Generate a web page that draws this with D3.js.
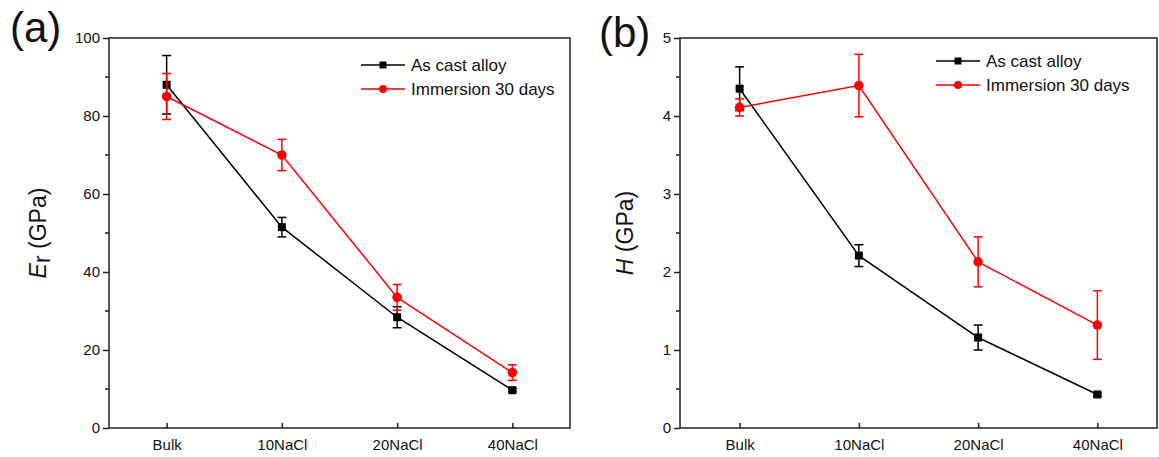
<!DOCTYPE html>
<html>
<head>
<meta charset="utf-8">
<script src="https://cdn.jsdelivr.net/npm/d3@7"></script>
<style>
  body { margin: 0; background: #fff; }
  svg { font-family: "Liberation Sans", Arial, sans-serif; }
</style>
</head>
<body>
<div id="chart"></div>
<script>
// Data
const categories = ["Bulk", "10NaCl", "20NaCl", "40NaCl"];
const seriesNames = ["As cast alloy", "Immersion 30 days"];

// panel (a) reduced modulus
const erCast = [88, 51.5, 28.4, 9.7];
const erCastErr = [7.5, 2.5, 2.7, 0.4];
const erImm = [85, 70, 33.5, 14.2];
const erImmErr = [5.9, 4, 3.3, 2];

// panel (b) hardness
const hCast = [4.35, 2.21, 1.16, 0.43];
const hCastErr = [0.28, 0.14, 0.16, 0.02];
const hImm = [4.11, 4.39, 2.13, 1.32];
const hImmErr = [0.11, 0.4, 0.32, 0.44];

const yTicksA = [0, 20, 40, 60, 80, 100];
const yTicksB = [0, 1, 2, 3, 4, 5];

const width = 1159;
const height = 457;

const svg = d3.select("#chart")
  .append("svg")
  .attr("width", width)
  .attr("height", height);

const colors = ["#000000", "#ff0000"];
const axisColor = "#222";

function drawPanel(opts) {
  const { left, right, top, bottom, yMax, yTicks, minorStep, series, letter, letterPos, legendPos, title } = opts;

  const x = d3.scaleLinear().domain([0.5, categories.length + 0.5]).range([left, right]);
  const y = d3.scaleLinear().domain([0, yMax]).range([bottom, top]);

  const g = svg.append("g");

  // frame
  g.append("rect")
    .attr("x", left).attr("y", top)
    .attr("width", right - left).attr("height", bottom - top)
    .attr("fill", "none")
    .attr("stroke", axisColor)
    .attr("stroke-width", 1.5);

  // y axis: ticks outward, minor ticks between
  const yAxis = d3.axisLeft(y)
    .tickValues(yTicks)
    .tickSize(6)
    .tickPadding(3)
    .tickFormat(d3.format("d"));
  const ya = g.append("g").attr("transform", `translate(${left},0)`).call(yAxis);
  ya.select(".domain").remove();
  ya.selectAll("line").attr("stroke", axisColor).attr("stroke-width", 1.5);
  ya.selectAll("text").attr("font-size", 15).attr("fill", "#111");

  const minor = d3.range(minorStep, yMax, minorStep * 2);
  g.selectAll(".minor")
    .data(minor)
    .enter()
    .append("line")
    .attr("x1", left - 4).attr("x2", left)
    .attr("y1", d => y(d)).attr("y2", d => y(d))
    .attr("stroke", axisColor)
    .attr("stroke-width", 1.5);

  // x axis: ticks inward
  const xAxis = d3.axisBottom(x)
    .tickValues(d3.range(1, categories.length + 1))
    .tickSize(-5)
    .tickPadding(11)
    .tickFormat(i => categories[i - 1]);
  const xa = g.append("g").attr("transform", `translate(0,${bottom})`).call(xAxis);
  xa.select(".domain").remove();
  xa.selectAll("line").attr("stroke", axisColor).attr("stroke-width", 1.5);
  xa.selectAll("text").attr("font-size", 15).attr("fill", "#111");

  // series
  series.forEach((s, k) => {
    const pts = s.values.map((v, i) => ({ i: i + 1, v: v, e: s.errors[i] }));
    const line = d3.line().x(d => x(d.i)).y(d => y(d.v));

    g.append("path")
      .datum(pts)
      .attr("d", line)
      .attr("fill", "none")
      .attr("stroke", colors[k])
      .attr("stroke-width", 1.5);

    const eb = g.selectAll(".eb" + k)
      .data(pts)
      .enter()
      .append("g");
    eb.append("line")
      .attr("x1", d => x(d.i)).attr("x2", d => x(d.i))
      .attr("y1", d => y(d.v - d.e)).attr("y2", d => y(d.v + d.e))
      .attr("stroke", colors[k]).attr("stroke-width", 1.5);
    [-1, 1].forEach(sg => {
      eb.append("line")
        .attr("x1", d => x(d.i) - 4.5).attr("x2", d => x(d.i) + 4.5)
        .attr("y1", d => y(d.v + sg * d.e)).attr("y2", d => y(d.v + sg * d.e))
        .attr("stroke", colors[k]).attr("stroke-width", 1.5);
    });

    if (k === 0) {
      g.selectAll(".sq")
        .data(pts)
        .enter()
        .append("rect")
        .attr("x", d => x(d.i) - 4).attr("y", d => y(d.v) - 4)
        .attr("width", 8).attr("height", 8)
        .attr("fill", colors[k]);
    } else {
      g.selectAll(".ci")
        .data(pts)
        .enter()
        .append("circle")
        .attr("cx", d => x(d.i)).attr("cy", d => y(d.v))
        .attr("r", 4.8)
        .attr("fill", colors[k]);
    }
  });

  // legend
  seriesNames.forEach((name, k) => {
    const ly = legendPos[1] + k * 24;
    const lx = legendPos[0];
    g.append("line")
      .attr("x1", lx).attr("x2", lx + 44)
      .attr("y1", ly).attr("y2", ly)
      .attr("stroke", colors[k]).attr("stroke-width", 1.5);
    if (k === 0) {
      g.append("rect").attr("x", lx + 18.5).attr("y", ly - 3.5).attr("width", 7).attr("height", 7).attr("fill", colors[k]);
    } else {
      g.append("circle").attr("cx", lx + 22).attr("cy", ly).attr("r", 4).attr("fill", colors[k]);
    }
    g.append("text")
      .attr("x", lx + 50).attr("y", ly)
      .attr("dy", "0.35em")
      .attr("font-size", 17)
      .attr("fill", "#111")
      .text(name);
  });

  // panel letter
  g.append("text")
    .attr("x", letterPos[0]).attr("y", letterPos[1])
    .attr("font-size", 42)
    .attr("fill", "#111")
    .text(letter);

  // y title
  const t = g.append("text")
    .attr("transform", `translate(${title.x},${(top + bottom) / 2}) rotate(-90)`)
    .attr("text-anchor", "middle")
    .attr("font-size", 23)
    .attr("fill", "#111");
  t.append("tspan").attr("font-style", "italic").text(title.main);
  if (title.sub) {
    t.append("tspan").attr("dy", 4).attr("font-size", 23).text(title.sub);
    t.append("tspan").attr("dy", -4).text(" (GPa)");
  } else {
    t.append("tspan").text(" (GPa)");
  }
}

drawPanel({
  left: 109, right: 570, top: 38, bottom: 428,
  yMax: 100, yTicks: yTicksA, minorStep: 10,
  series: [{ values: erCast, errors: erCastErr }, { values: erImm, errors: erImmErr }],
  letter: "(a)", letterPos: [10, 42],
  legendPos: [361, 65],
  title: { x: 46, main: "E", sub: "r" }
});

drawPanel({
  left: 680, right: 1157, top: 38, bottom: 428,
  yMax: 5, yTicks: yTicksB, minorStep: 0.5,
  series: [{ values: hCast, errors: hCastErr }, { values: hImm, errors: hImmErr }],
  letter: "(b)", letterPos: [599, 47],
  legendPos: [936, 61],
  title: { x: 633, main: "H", sub: null }
});
</script>
</body>
</html>
